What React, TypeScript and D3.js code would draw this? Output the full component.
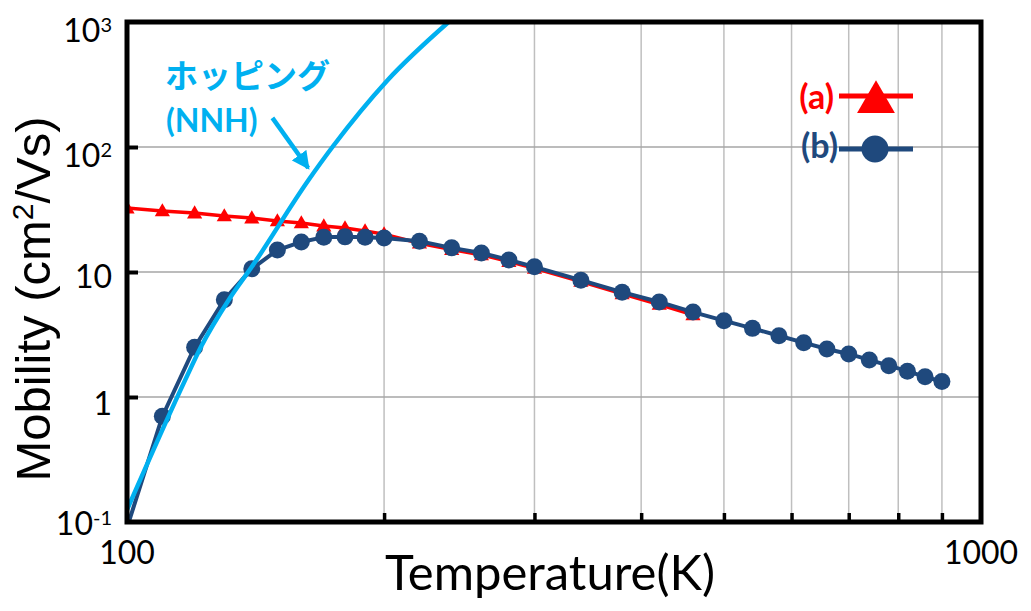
import { useEffect, useRef } from "react";
import * as d3 from "d3";

// series (a): red triangles
const tempA = [100, 110, 120, 130, 140, 150, 160, 170, 180, 190, 200, 220, 240, 260, 280, 300, 340, 380, 420, 460];
const mobA = [32.5, 30.8, 29.6, 28.1, 27.0, 25.6, 24.7, 23.3, 22.5, 21.3, 20.1, 17.0, 15.1, 13.7, 12.1, 10.7, 8.4, 6.7, 5.5, 4.55];

// series (b): dark blue circles
const tempB = [100, 110, 120, 130, 140, 150, 160, 170, 180, 190, 200, 220, 240, 260, 280, 300, 340, 380, 420, 460, 500, 540, 580, 620, 660, 700, 740, 780, 820, 860, 900];
const mobB = [0.09, 0.7, 2.5, 6.0, 10.6, 15.0, 17.4, 19.0, 19.1, 19.0, 18.7, 17.6, 15.6, 14.2, 12.5, 11.0, 8.6, 6.9, 5.75, 4.78, 4.08, 3.54, 3.09, 2.72, 2.42, 2.21, 1.98, 1.78, 1.61, 1.45, 1.33];

// hopping (NNH) curve
const hopT = [100, 117, 122, 132, 140, 163, 174, 202, 238];
const hopMu = [0.125, 1.37, 2.5, 6.2, 11, 54, 100, 344, 1000];

// axes
const xGrid = [200, 300, 400, 500, 600, 700, 800, 900];
const xTickLabels = ["100", "1000"];
const yGrid = [1, 10, 100];
const yTicks = [0.1, 1, 10, 100, 1000];
const yTickBase = ["10", "1", "10", "10", "10"];
const yTickSup = ["-1", "", "", "2", "3"];
const yTickShift = [13, 18, 16, 20, 20];

// annotation arrow (data coords)
const arrowFrom: [number, number] = [148, 171];
const arrowTo: [number, number] = [163, 68];

const RED = "#ff0000";
const BLUE = "#1f497d";
const CYAN = "#00b0f0";
const TICK_FONT = "Lato, 'Open Sans', sans-serif";

export default function App() {
   const ref = useRef<SVGSVGElement>(null);

   useEffect(() => {
      const width = 1031;
      const height = 611;
      const left = 127, right = 981, top = 22, bottom = 522;

      const svg = d3.select(ref.current).attr("width", width).attr("height", height);
      svg.selectAll("*").remove();

      const x = d3.scaleLog().domain([100, 1000]).range([left, right]);
      const y = d3.scaleLog().domain([0.1, 1000]).range([bottom, top]);

      svg.append("rect").attr("width", width).attr("height", height).attr("fill", "#fff");

      const defs = svg.append("defs");
      defs.append("clipPath").attr("id", "plot-clip")
         .append("rect")
         .attr("x", left).attr("y", top)
         .attr("width", right - left).attr("height", bottom - top);

      defs.append("marker")
         .attr("id", "arrow-head")
         .attr("markerUnits", "userSpaceOnUse")
         .attr("viewBox", "0 0 16 16")
         .attr("refX", 14).attr("refY", 8)
         .attr("markerWidth", 18).attr("markerHeight", 18)
         .attr("orient", "auto")
         .append("path")
         .attr("d", "M0,0 L16,8 L0,16 Z")
         .attr("fill", CYAN);

      // gridlines
      svg.append("g").selectAll("line").data(xGrid).join("line")
         .attr("x1", (d) => x(d)).attr("x2", (d) => x(d))
         .attr("y1", top).attr("y2", bottom)
         .attr("stroke", "#bfbfbf").attr("stroke-width", 1.5);
      svg.append("g").selectAll("line").data(yGrid).join("line")
         .attr("x1", left).attr("x2", right)
         .attr("y1", (d) => y(d)).attr("y2", (d) => y(d))
         .attr("stroke", "#a6a6a6").attr("stroke-width", 1.5);

      // inward ticks
      const yAxis = svg.append("g").attr("transform", `translate(${left},0)`)
         .call(d3.axisLeft(y).tickValues(yGrid).tickSize(-11).tickFormat(() => ""));
      yAxis.select(".domain").remove();
      yAxis.selectAll(".tick line").attr("stroke", "#000").attr("stroke-width", 4);

      const xAxis = svg.append("g").attr("transform", `translate(0,${bottom})`)
         .call(d3.axisBottom(x).tickValues(xGrid).tickSize(-9).tickFormat(() => ""));
      xAxis.select(".domain").remove();
      xAxis.selectAll(".tick line").attr("stroke", "#000").attr("stroke-width", 3.5);

      const plot = svg.append("g").attr("clip-path", "url(#plot-clip)");
      const line = d3.line<[number, number]>().x((d) => x(d[0])).y((d) => y(d[1]));

      // series (a)
      const dataA: [number, number][] = tempA.map((t, i) => [t, mobA[i]]);
      plot.append("path").attr("d", line(dataA))
         .attr("fill", "none").attr("stroke", RED).attr("stroke-width", 3.5);
      const tri = d3.symbol().type(d3.symbolTriangle).size(100)();
      plot.append("g").selectAll("path").data(dataA).join("path")
         .attr("d", tri)
         .attr("transform", (d) => `translate(${x(d[0])},${y(d[1]) + 1})`)
         .attr("fill", RED);

      // series (b)
      const dataB: [number, number][] = tempB.map((t, i) => [t, mobB[i]]);
      plot.append("path").attr("d", line(dataB))
         .attr("fill", "none").attr("stroke", BLUE).attr("stroke-width", 4);
      plot.append("g").selectAll("circle").data(dataB).join("circle")
         .attr("cx", (d) => x(d[0])).attr("cy", (d) => y(d[1]))
         .attr("r", 8.5).attr("fill", BLUE);

      // hopping curve
      const dataH: [number, number][] = hopT.map((t, i) => [t, hopMu[i]]);
      plot.append("path").attr("d", line.curve(d3.curveMonotoneX)(dataH))
         .attr("fill", "none").attr("stroke", CYAN).attr("stroke-width", 4.5);

      // frame
      svg.append("rect")
         .attr("x", left).attr("y", top)
         .attr("width", right - left).attr("height", bottom - top)
         .attr("fill", "none").attr("stroke", "#000").attr("stroke-width", 5);

      // y tick labels
      const yl = svg.append("g").selectAll("text").data(yTicks).join("text")
         .attr("x", 112)
         .attr("y", (d, i) => y(d) + yTickShift[i])
         .attr("text-anchor", "end")
         .attr("font-family", TICK_FONT)
         .attr("font-size", 32)
         .attr("fill", "#000");
      yl.append("tspan").text((d, i) => yTickBase[i]);
      yl.append("tspan").attr("dy", -10).attr("font-size", 20).text((d, i) => yTickSup[i]);

      // x tick labels
      svg.append("g").selectAll("text").data([100, 1000]).join("text")
         .attr("x", (d) => x(d)).attr("y", 564)
         .attr("text-anchor", "middle")
         .attr("font-family", TICK_FONT).attr("font-size", 32)
         .attr("fill", "#000")
         .text((d, i) => xTickLabels[i]);

      // axis titles
      svg.append("text")
         .attr("x", 550).attr("y", 590)
         .attr("text-anchor", "middle")
         .attr("font-family", TICK_FONT).attr("font-size", 49)
         .attr("fill", "#000")
         .text("Temperature(K)");

      const yt = svg.append("text")
         .attr("transform", "translate(50,299) rotate(-90)")
         .attr("text-anchor", "middle")
         .attr("font-family", "'Liberation Sans', Arial, sans-serif")
         .attr("font-size", 49)
         .attr("fill", "#000");
      yt.append("tspan").text("Mobility (cm");
      yt.append("tspan").attr("dy", -17).attr("font-size", 30).text("2");
      yt.append("tspan").attr("dy", 17).text("/Vs)");

      // annotation
      svg.append("text")
         .attr("x", 165).attr("y", 88)
         .attr("font-family", "'Noto Sans CJK JP', sans-serif")
         .attr("font-weight", "bold").attr("font-size", 33)
         .attr("fill", CYAN)
         .text("ホッピング");
      svg.append("text")
         .attr("x", 166).attr("y", 132)
         .attr("font-family", TICK_FONT)
         .attr("font-weight", "bold").attr("font-size", 32)
         .attr("fill", CYAN)
         .text("(NNH)");
      svg.append("line")
         .attr("x1", x(arrowFrom[0])).attr("y1", y(arrowFrom[1]))
         .attr("x2", x(arrowTo[0])).attr("y2", y(arrowTo[1]))
         .attr("stroke", CYAN).attr("stroke-width", 4.5)
         .attr("marker-end", "url(#arrow-head)");

      // legend
      const legend = svg.append("g");
      legend.append("text").attr("x", 834).attr("y", 109)
         .attr("text-anchor", "end")
         .attr("font-family", TICK_FONT).attr("font-weight", "bold").attr("font-size", 34)
         .attr("fill", RED).text("(a)");
      legend.append("line").attr("x1", 839).attr("x2", 913).attr("y1", 96).attr("y2", 96)
         .attr("stroke", RED).attr("stroke-width", 5);
      legend.append("path")
         .attr("d", d3.symbol().type(d3.symbolTriangle).size(620)())
         .attr("transform", "translate(876,102)")
         .attr("fill", RED);

      legend.append("text").attr("x", 838).attr("y", 158)
         .attr("text-anchor", "end")
         .attr("font-family", TICK_FONT).attr("font-weight", "bold").attr("font-size", 34)
         .attr("fill", BLUE).text("(b)");
      legend.append("line").attr("x1", 839).attr("x2", 913).attr("y1", 149).attr("y2", 149)
         .attr("stroke", BLUE).attr("stroke-width", 5);
      legend.append("circle").attr("cx", 875).attr("cy", 149).attr("r", 13.5).attr("fill", BLUE);
   }, []);

   return (
      <svg
         ref={ref}
         width={1031}
         height={611}
         style={{ position: "absolute", left: 0, top: 0 }}
      ></svg>
   );
}
